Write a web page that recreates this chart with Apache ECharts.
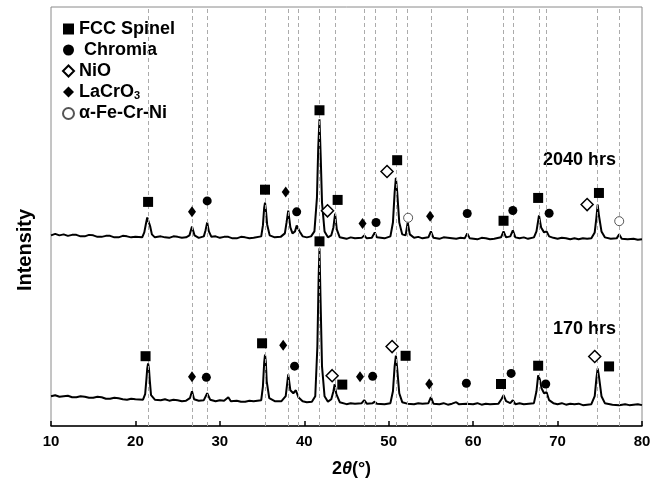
<!DOCTYPE html>
<html><head><meta charset="utf-8">
<script src="https://cdn.jsdelivr.net/npm/echarts@6/dist/echarts.min.js"></script>
<style>html,body{margin:0;padding:0;background:#fff}#c{width:661px;height:483px}</style>
</head><body><div id="c"></div>
<script>
// ---- data (intensity in arbitrary units, offset traces) ----
const twoTheta2040 = [10,10.5,11,11.5,12,12.5,13,13.5,14,14.5,15,15.5,16,16.5,17,17.5,18,18.5,19,19.5,20,20.8,21.05,21.25,21.4,21.5,21.6,21.75,21.95,22.3,23,23.5,24,24.5,25,25.5,26,26.4,26.7,27,27.5,28.1,28.3,28.5,28.7,29,29.5,30,30.5,31,31.5,32,32.5,33,33.5,34,34.9,35.1,35.25,35.35,35.45,35.6,35.9,36.5,37.2,37.7,37.9,38.1,38.35,38.6,38.9,39.1,39.25,39.45,39.8,40.3,40.8,41.2,41.5,41.65,41.8,41.95,42.1,42.4,42.8,43.2,43.45,43.65,43.85,44.2,45,45.5,46,46.8,47.1,47.4,48,48.35,48.6,49.5,50.2,50.5,50.7,50.85,51,51.25,51.6,52,52.25,52.5,53,53.5,54,54.7,55,55.3,56,56.5,57,57.5,58,58.5,59,59.3,59.6,60.5,61,61.5,62,62.5,63.3,63.6,63.9,64.4,64.7,65,65.5,66,66.5,67.2,67.5,67.8,68.05,68.4,68.7,69,69.5,70,70.5,71,71.5,72,72.5,73,73.5,74,74.4,74.6,74.75,74.9,75.2,75.6,76.3,77,77.3,77.6,78.3,79,79.5,80];
const intensity2040 = [192,193.5,192,193,191.5,192.5,192.5,191,191,192.5,192,190.5,190.5,191.5,191.5,190,190,191.5,191,190,190.5,190,195,204,210,212,209,201,193,190,191,190,189.5,191,190.5,189.5,190,192,201,192,189.5,191,197,205,196,190.5,191,189.5,190.5,190.5,189,189,190.5,190,189,189.5,191,202,220,225,218,203,192,190,190.5,194,205,217,200,194,196,202,204,196,191,190,191,196,230,280,309,270,225,196,190,192,200,214,198,190,188.5,190,189,189.5,192,189,189.5,195,190,189,191,205,235,250,236,205,193,192,205,193,189.5,190.5,189,190,196,189.5,188.5,190,189.5,189,188.5,189.5,189,194,189,188,189.5,189,188,188.5,190,196,190,191,197,190,189,190,188.5,190,196,212,200,195,196,191,189.5,188.5,189.5,189,188,189,188,189,188.5,189,195,210,223,212,196,190,188.5,189,193,188.5,188,188.5,187.5,188];

const twoTheta170 = [10,10.5,11,11.5,12,12.5,13,13.5,14,14.5,15,15.5,16,16.5,17,17.5,18,18.5,19,19.5,20,20.9,21.15,21.3,21.4,21.5,21.6,21.7,21.85,22.3,23,23.5,24,24.5,25,25.5,26,26.45,26.7,26.95,27.5,28.1,28.5,28.85,29.5,30,30.5,31,31.3,32,32.5,33,33.5,34,34.9,35.1,35.25,35.35,35.45,35.55,35.85,36.5,37.3,37.8,38.1,38.35,38.7,39,39.3,39.8,40.3,40.9,41.3,41.55,41.7,41.8,41.92,42.1,42.4,42.8,43.2,43.45,43.6,43.8,44.2,45,45.5,46,46.8,47.1,47.4,48.1,48.35,48.6,49.5,50.2,50.5,50.7,50.85,51,51.25,51.6,52.2,53,53.5,54,54.7,55,55.3,56,56.5,57,57.5,58,58.3,59.2,60,60.5,61,61.5,62,63,63.35,63.6,63.9,64.4,64.7,65,65.5,66,67.2,67.5,67.7,67.9,68.1,68.4,68.7,69,69.5,70,70.5,71,71.5,72,72.5,73,74,74.4,74.6,74.75,74.9,75.2,75.6,76.5,77.3,78,78.5,79,79.5,80];
const intensity170 = [30,31,29.5,30,30.5,29,29,30,29.5,28.5,28.5,29.5,29,27.5,27.5,28.5,28,27,26.5,27.5,27,26.5,32,47,58,63,58,46,31,26.5,26,27,25.5,26.5,26,25,25.5,28,35,27,25.5,26,33,26.5,25,26,25.5,29,25,25.5,24.5,24.5,25.5,25,26,40,64,72,64,45,28,25,25,30,52,36,33,36,29,25,24,24.5,30,80,150,179,130,60,30,24.5,27,35,42,32,24,22,23,22.5,23,26,22.5,23,24.5,22.5,22,23,35,60,71,58,33,24,22.5,22,23,22.5,23,29,22.5,22,23,21.5,22.5,24,22,22.5,22,23,21.5,22.5,22,22.5,27,31,25,23,26,22,23,22,23,35,51,47,38,33,34,26,23,22,23,21.5,22.5,22,22.5,21,22,30,48,58,50,30,23,21.5,21,22,21,21.5,22,21];

const referenceLines = [21.5,26.7,28.5,35.35,38.1,39.25,41.8,43.65,47.1,48.35,50.85,52.25,55.0,59.3,63.6,64.7,67.8,68.7,74.75,77.3];

// phase markers [2θ, intensity]
const spinel2040 = [[21.5,225.7],[35.35,238],[41.8,318],[43.95,227.7],[51.0,267.7],[63.6,206.7],[67.7,229.7],[74.9,234.7]];
const chromia2040 = [[28.5,226.7],[39.1,215.7],[48.5,205],[59.3,214],[64.7,217],[69.0,214.3]];
const nio2040 = [[42.75,216.7],[49.8,256.3],[73.5,223]];
const lacro2040 = [[26.7,215.7],[37.8,235.7],[46.9,204],[54.9,211.3]];
const fecrni2040 = [[52.3,209.7],[77.3,206.3]];

const spinel170 = [[21.2,70.3],[35.0,83.3],[41.8,186],[44.5,41.7],[52.0,70.7],[63.3,42.3],[67.7,60.7],[76.1,60]];
const chromia170 = [[28.4,49],[38.85,60.3],[48.1,50],[59.2,43],[64.5,53],[68.6,42.3]];
const nio170 = [[43.3,50.7],[50.4,80],[74.4,70]];
const lacro170 = [[26.7,49.7],[37.5,81.3],[46.6,49.7],[54.8,42.3]];

const xTickValues = [10,20,30,40,50,60,70,80];
const traceLabels = ['2040 hrs','170 hrs'];
const phaseNames = ['FCC Spinel',' Chromia','NiO','LaCrO3','α-Fe-Cr-Ni'];
const yTitle = 'Intensity';

// ---- chart ----
const FONT = '"Liberation Sans", Arial, sans-serif';
const zip = (a,b) => a.map((v,i)=>[v,b[i]]);
const chart = echarts.init(document.getElementById('c'), null, {renderer:'canvas'});

const sym = {
  spinel:{symbol:'rect',symbolSize:10,itemStyle:{color:'#000',opacity:1}},
  chromia:{symbol:'circle',symbolSize:9,itemStyle:{color:'#000',opacity:1}},
  nio:{symbol:'diamond',symbolSize:[12,12],itemStyle:{color:'#fff',borderColor:'#000',borderWidth:1.5,opacity:1}},
  lacro:{symbol:'diamond',symbolSize:[8,11],itemStyle:{color:'#000',opacity:1}},
  fecr:{symbol:'circle',symbolSize:9,itemStyle:{color:'#fff',borderColor:'#555',borderWidth:1,opacity:1}}
};
function scatter(name, data, s){
  return Object.assign({type:'scatter', name, data, z:5, silent:true}, s);
}

chart.setOption({
  animation:false,
  backgroundColor:'#fff',
  grid:{left:51,right:19,top:7,bottom:55,show:true,borderColor:'#8a8a8a',borderWidth:1},
  xAxis:{type:'value',min:10,max:80,interval:10,
    axisLine:{lineStyle:{color:'#000',width:1.5}},
    axisTick:{inside:true,length:5,lineStyle:{color:'#000',width:1.5}},
    axisLabel:{color:'#000',fontFamily:FONT,fontWeight:'bold',fontSize:15,margin:8,
      customValues:xTickValues},
    splitLine:{show:false},
    name:'{n|2}{t|θ}{n|(°)}',nameLocation:'middle',nameGap:34,
    nameTextStyle:{padding:[0,0,0,10],rich:{n:{fontFamily:FONT,fontWeight:'bold',fontSize:18,color:'#000'},
      t:{fontFamily:FONT,fontWeight:'bold',fontStyle:'italic',fontSize:18,color:'#000'}}}
  },
  yAxis:{type:'value',min:0,max:422,
    axisLine:{show:false},axisTick:{show:false},axisLabel:{show:false},splitLine:{show:false}
  },
  legend:{orient:'vertical',left:62,top:20,padding:0,itemGap:3,itemWidth:11,itemHeight:11,
    data:phaseNames,
    textStyle:{fontFamily:FONT,fontWeight:'bold',fontSize:18,color:'#000',
      rich:{s:{fontFamily:FONT,fontWeight:'bold',fontSize:11,color:'#000',verticalAlign:'bottom',padding:[8,0,0,0]},
            b:{fontFamily:FONT,fontWeight:'bold',fontSize:18,color:'#000'}}},
    formatter: n => n==='LaCrO3' ? '{b|LaCrO}{s|3}' : n
  },
  graphic:[
    {type:'text',left:543,top:151,style:{text:traceLabels[0],font:'bold 18px '+FONT,fill:'#000'}},
    {type:'text',left:553,top:320,style:{text:traceLabels[1],font:'bold 18px '+FONT,fill:'#000'}},
    {type:'text',x:25,y:250,rotation:Math.PI/2,
      style:{text:yTitle,font:'bold 20px '+FONT,fill:'#000',align:'center',verticalAlign:'middle'}}
  ],
  series:[
    {type:'line',data:[],silent:true,z:1,
      markLine:{silent:true,symbol:'none',label:{show:false},animation:false,
        lineStyle:{color:'#ababab',type:[4,3],width:1},
        data:referenceLines.map(v=>({xAxis:v}))}},
    {type:'line',name:'t2040',data:zip(twoTheta2040,intensity2040),showSymbol:false,
      lineStyle:{color:'#000',width:2},z:3,silent:true},
    {type:'line',name:'t170',data:zip(twoTheta170,intensity170),showSymbol:false,
      lineStyle:{color:'#000',width:2},z:3,silent:true},
    scatter('FCC Spinel',spinel2040,sym.spinel),
    scatter('FCC Spinel',spinel170,sym.spinel),
    scatter(' Chromia',chromia2040,sym.chromia),
    scatter(' Chromia',chromia170,sym.chromia),
    scatter('NiO',nio2040,sym.nio),
    scatter('NiO',nio170,sym.nio),
    scatter('LaCrO3',lacro2040,sym.lacro),
    scatter('LaCrO3',lacro170,sym.lacro),
    scatter('α-Fe-Cr-Ni',fecrni2040,sym.fecr)
  ]
});
</script></body></html>
